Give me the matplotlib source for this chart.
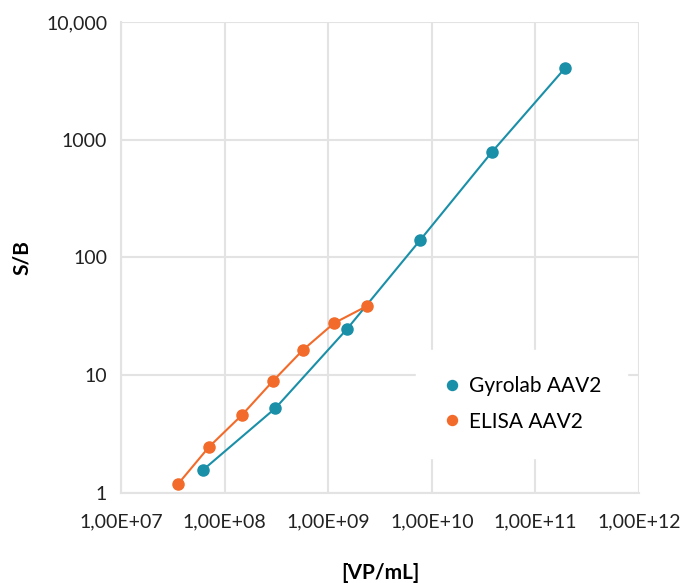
import matplotlib.pyplot as plt
from matplotlib.ticker import FixedLocator, FixedFormatter, NullLocator

plt.rcParams['font.family'] = ['Lato', 'DejaVu Sans']

# Gyrolab AAV2
gyro_x = [6.2e7, 3.1e8, 1.52e9, 7.7e9, 3.8e10, 1.93e11]
gyro_y = [1.57, 5.26, 24.7, 140, 785, 4050]

# ELISA AAV2
elisa_x = [3.55e7, 7.07e7, 1.47e8, 2.93e8, 5.71e8, 1.14e9, 2.37e9]
elisa_y = [1.19, 2.46, 4.59, 8.93, 16.4, 27.7, 38.7]

x_ticks = [1e7, 1e8, 1e9, 1e10, 1e11, 1e12]
x_labels = ['1,00E+07', '1,00E+08', '1,00E+09', '1,00E+10', '1,00E+11', '1,00E+12']
y_ticks = [1, 10, 100, 1000, 10000]
y_labels = ['1', '10', '100', '1000', '10,000']

teal = '#1a8fa8'
orange = '#f26b2a'
grid_col = '#e3e3e3'

fig = plt.figure(figsize=(6.89, 5.83), dpi=100)
ax = fig.add_axes([0.1756, 0.1544, 0.7518, 0.8079])

ax.plot(gyro_x, gyro_y, color=teal, lw=1.5, marker='o', ms=8, label='Gyrolab AAV2', zorder=3)
ax.plot(elisa_x, elisa_y, color=orange, lw=1.5, marker='o', ms=8, label='ELISA AAV2', zorder=3)

ax.set_xscale('log')
ax.set_yscale('log')
ax.set_xlim(1e7, 1e12)
ax.set_ylim(1, 10000)

ax.xaxis.set_major_locator(FixedLocator(x_ticks))
ax.xaxis.set_major_formatter(FixedFormatter(x_labels))
ax.xaxis.set_minor_locator(NullLocator())
ax.yaxis.set_major_locator(FixedLocator(y_ticks))
ax.yaxis.set_major_formatter(FixedFormatter(y_labels))
ax.yaxis.set_minor_locator(NullLocator())

ax.tick_params(axis='both', length=0, labelsize=14, colors='#222222')
ax.tick_params(axis='x', pad=15)
ax.tick_params(axis='y', pad=10)

ax.grid(True, color=grid_col, lw=1.5)
ax.set_axisbelow(True)
for s in ax.spines.values():
    s.set_visible(False)
for side in ['left', 'bottom']:
    ax.spines[side].set_visible(True)
    ax.spines[side].set_color(grid_col)
    ax.spines[side].set_linewidth(1.5)

ax.set_xlabel('[VP/mL]', fontsize=15, fontweight='bold', labelpad=23)
ax.set_ylabel('S/B', fontsize=15, fontweight='bold', labelpad=10)

leg = ax.legend(loc='lower right', bbox_to_anchor=(0.985, 0.066), frameon=True,
                fontsize=15, handlelength=1.0, handletextpad=0.3,
                labelspacing=0.75, borderpad=0.95, markerscale=0.9)
leg.get_frame().set_facecolor('white')
leg.get_frame().set_edgecolor('white')
leg.get_frame().set_alpha(1)
leg.get_frame().set_boxstyle('square')
for h in leg.legend_handles:
    h.set_linestyle('none')

fig.savefig('out.png', dpi=100)
